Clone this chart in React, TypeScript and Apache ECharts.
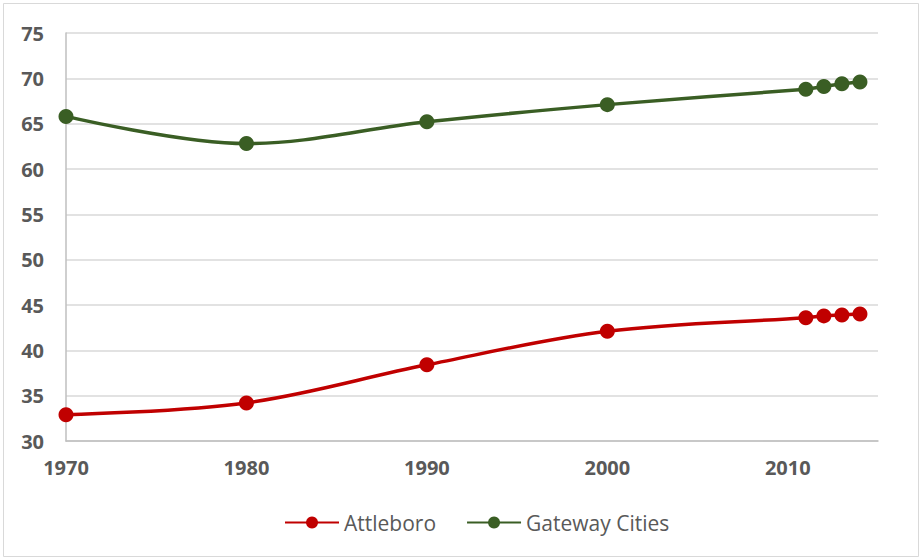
import React, { useEffect, useRef } from "react";
import * as echarts from "echarts";

const years = [1970, 1980, 1990, 2000, 2011, 2012, 2013, 2014];
const attleboro = [32.9, 34.2, 38.4, 42.1, 43.6, 43.8, 43.9, 44.0];
const gatewayCities = [65.8, 62.8, 65.2, 67.1, 68.8, 69.1, 69.4, 69.6];

const RED = "#C00000";
const GREEN = "#3A5E24";
const TEXT = "#595959";
const FONT = "'Open Sans', 'Liberation Sans', sans-serif";

export default function App() {
  const ref = useRef<HTMLDivElement>(null);
  useEffect(() => {
    document.body.style.margin = "0";
    const chart = echarts.init(ref.current!, null, { renderer: "svg" });
    const mk = (name: string, vals: number[], color: string) => ({
      name,
      type: "line",
      smooth: 0.35,
      data: years.map((y, i) => [y, vals[i]]),
      symbol: "circle",
      symbolSize: 15,
      lineStyle: { color, width: 3.5 },
      itemStyle: { color },
    });
    chart.setOption({
      animation: false,
      graphic: [
        {
          type: "rect",
          shape: { x: 3.5, y: 3.5, width: 915, height: 553 },
          style: { fill: "none", stroke: "#d9d9d9", lineWidth: 1 },
        },
      ],
      grid: { left: 66, right: 44, top: 33, bottom: 119 },
      xAxis: {
        type: "value",
        min: 1970,
        max: 2015,
        interval: 10,
        axisLine: { show: true, lineStyle: { color: "#bfbfbf", width: 1.5 } },
        axisTick: { show: false },
        splitLine: { show: false },
        axisLabel: {
          color: TEXT,
          fontSize: 20,
          fontWeight: "bold",
          fontFamily: FONT,
          margin: 16,
          showMaxLabel: false,
          formatter: (v: number) => String(v),
        },
      },
      yAxis: {
        type: "value",
        min: 30,
        max: 75,
        interval: 5,
        axisLine: { show: true, lineStyle: { color: "#bfbfbf", width: 1.5 } },
        axisTick: { show: false },
        splitLine: { lineStyle: { color: "#d9d9d9", width: 1.5 } },
        axisLabel: {
          color: TEXT,
          fontSize: 20,
          fontWeight: "bold",
          fontFamily: FONT,
          margin: 22,
        },
      },
      legend: {
        bottom: 22,
        left: 279,
        itemWidth: 54,
        itemHeight: 15,
        itemGap: 30,
        textStyle: { color: TEXT, fontSize: 21, fontFamily: FONT },
        data: ["Attleboro", "Gateway Cities"],
      },
      series: [mk("Attleboro", attleboro, RED), mk("Gateway Cities", gatewayCities, GREEN)],
    });
    return () => chart.dispose();
  }, []);
  return <div ref={ref} style={{ width: 922, height: 560 }} />;
}
